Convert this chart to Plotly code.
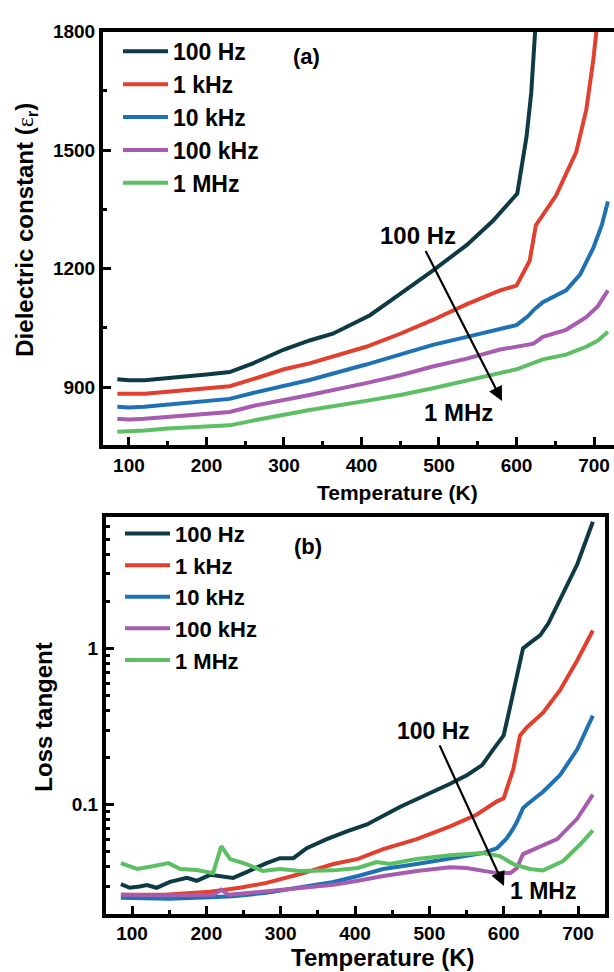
import plotly.graph_objects as go
import numpy as np

# ---------------- data: panel (a) dielectric constant ----------------
freq_labels = ["100 Hz", "1 kHz", "10 kHz", "100 kHz", "1 MHz"]
colors = ["#0d3a45", "#e23f2e", "#1f71b6", "#a75caf", "#5dbf63"]

T_a_100Hz = [85, 100, 120, 150, 200, 230, 260, 300, 333, 363, 411, 449, 492, 536, 569, 595, 601, 613, 619, 624]
e_100Hz = [920, 917, 917, 922, 932, 938, 960, 995, 1018, 1035, 1082, 1135, 1195, 1260, 1320, 1377, 1390, 1535, 1645, 1800]

T_a_1kHz = [85, 100, 120, 150, 200, 230, 260, 300, 333, 406, 450, 492, 536, 579, 600, 617, 625, 634, 651, 677, 690, 699, 703]
e_1kHz = [883, 882, 883, 888, 897, 902, 920, 945, 960, 1002, 1035, 1070, 1110, 1145, 1157, 1220, 1310, 1335, 1385, 1495, 1602, 1727, 1800]

T_a_10kHz = [85, 100, 120, 150, 200, 230, 260, 300, 333, 406, 450, 492, 536, 579, 600, 615, 622, 634, 664, 682, 699, 710, 718]
e_10kHz = [850, 848, 850, 855, 863, 870, 885, 903, 918, 957, 982, 1007, 1027, 1047, 1057, 1080, 1095, 1115, 1145, 1185, 1252, 1310, 1370]

T_a_100kHz = [85, 100, 120, 150, 200, 230, 260, 300, 333, 406, 450, 492, 536, 579, 622, 634, 664, 690, 705, 718]
e_100kHz = [820, 818, 820, 825, 832, 837, 852, 867, 880, 910, 930, 952, 972, 995, 1010, 1027, 1045, 1077, 1105, 1145]

T_a_1MHz = [85, 100, 120, 150, 200, 230, 260, 300, 333, 406, 450, 492, 557, 600, 634, 664, 690, 705, 718]
e_1MHz = [787, 788, 790, 795, 800, 803, 815, 830, 842, 865, 880, 897, 927, 945, 970, 982, 1002, 1018, 1040]

# ---------------- data: panel (b) loss tangent ----------------
T_b_100Hz = [85, 97, 110, 120, 133, 151, 174, 187, 205, 222, 236, 254, 281, 299, 317, 335, 362, 389, 416, 461,
             505, 528, 551, 571, 586, 600, 609, 619, 626, 635, 649, 660, 680, 699, 720]
tan_100Hz = [0.031, 0.0294, 0.030, 0.0306, 0.0294, 0.0321, 0.034, 0.0326, 0.0356, 0.0345, 0.034, 0.037, 0.0423,
             0.0455, 0.0455, 0.0527, 0.0602, 0.0675, 0.0747, 0.097, 0.121, 0.136, 0.155, 0.179, 0.226, 0.277,
             0.43, 0.73, 1.0, 1.08, 1.21, 1.44, 2.23, 3.45, 6.46]

T_b_1kHz = [85, 145, 205, 245, 281, 326, 371, 404, 438, 483, 528, 564, 591, 600, 613, 622, 631, 653, 676, 699, 720]
tan_1kHz = [0.0265, 0.0265, 0.0277, 0.0294, 0.0316, 0.036, 0.0417, 0.045, 0.0519, 0.0602, 0.0726, 0.0865,
            0.105, 0.11, 0.169, 0.277, 0.312, 0.388, 0.542, 0.84, 1.3]

T_b_10kHz = [85, 150, 205, 236, 281, 326, 371, 404, 438, 483, 528, 572, 591, 604, 613, 618, 626, 631, 653, 676, 699, 720]
tan_10kHz = [0.0254, 0.025, 0.0256, 0.026, 0.0273, 0.0294, 0.032, 0.035, 0.0388, 0.0417, 0.045, 0.049, 0.0527,
             0.0608, 0.0705, 0.078, 0.095, 0.1, 0.121, 0.155, 0.226, 0.371]

T_b_100kHz = [85, 150, 210, 220, 230, 281, 326, 371, 404, 438, 483, 528, 550, 572, 591, 609, 618, 626, 645, 672, 699, 720]
tan_100kHz = [0.0265, 0.0262, 0.0265, 0.0286, 0.0265, 0.028, 0.029, 0.0307, 0.0326, 0.035, 0.0377, 0.0398,
              0.0394, 0.038, 0.0365, 0.0365, 0.0394, 0.0483, 0.0527, 0.0602, 0.0815, 0.116]

T_b_1MHz = [85, 107, 128, 149, 165, 187, 209, 220, 232, 254, 276, 299, 326, 371, 404, 429, 447, 483, 528, 572,
            595, 613, 635, 653, 680, 703, 720]
tan_1MHz = [0.0423, 0.0388, 0.0404, 0.0423, 0.0388, 0.0382, 0.0365, 0.0542, 0.0449, 0.0417, 0.0377, 0.0388,
            0.0377, 0.038, 0.0394, 0.043, 0.0417, 0.045, 0.0475, 0.049, 0.0469, 0.0417, 0.0388, 0.038, 0.0436,
            0.0558, 0.0685]

x_ticks = [100, 200, 300, 400, 500, 600, 700]
x_minor = [150, 250, 350, 450, 550, 650]
ya_ticks = [900, 1200, 1500, 1800]
ya_minor = [1050, 1350, 1650]
yb_ticks = [0.1, 1]
yb_ticklabels = ["0.1", "1"]
yb_minor = [0.03, 0.04, 0.05, 0.06, 0.07, 0.08, 0.09,
            0.2, 0.3, 0.4, 0.5, 0.6, 0.7, 0.8, 0.9,
            2, 3, 4, 5, 6]

panel_a = [(T_a_100Hz, e_100Hz), (T_a_1kHz, e_1kHz), (T_a_10kHz, e_10kHz), (T_a_100kHz, e_100kHz), (T_a_1MHz, e_1MHz)]
panel_b = [(T_b_100Hz, tan_100Hz), (T_b_1kHz, tan_1kHz), (T_b_10kHz, tan_10kHz), (T_b_100kHz, tan_100kHz), (T_b_1MHz, tan_1MHz)]

W, H = 614, 972
FONT = "Liberation Sans, Arial, sans-serif"

fig = go.Figure()
for lab, col, (t, v) in zip(freq_labels, colors, panel_a):
    fig.add_trace(go.Scatter(x=t, y=v, mode="lines", name=lab, line=dict(color=col, width=4),
                             xaxis="x", yaxis="y", legend="legend"))
for lab, col, (t, v) in zip(freq_labels, colors, panel_b):
    fig.add_trace(go.Scatter(x=t, y=v, mode="lines", name=lab, line=dict(color=col, width=4),
                             xaxis="x2", yaxis="y2", legend="legend2"))

def px_x(p):
    return p / W

def px_y(p):
    return 1 - p / H

axis_common = dict(showline=True, linecolor="black", linewidth=4, ticks="inside", ticklen=8,
                   tickwidth=3, tickcolor="black", showgrid=False, zeroline=False,
                   tickfont=dict(family=FONT, size=19, color="black", weight="bold"))

minor_common = dict(tickmode="array", ticks="inside", ticklen=4, tickwidth=3, tickcolor="black")

fig.update_layout(
    width=W, height=H, margin=dict(l=0, r=0, t=0, b=0),
    paper_bgcolor="white", plot_bgcolor="white",
    xaxis=dict(domain=[px_x(103), 1.0], range=[66.5, 725.8], anchor="y", mirror=True,
               tickmode="array", tickvals=x_ticks, minor=dict(tickvals=x_minor, **minor_common),
               **axis_common),
    yaxis=dict(domain=[px_y(440), px_y(22)], range=[752, 1800], anchor="x", mirror=False,
               tickmode="array", tickvals=ya_ticks, minor=dict(tickvals=ya_minor, **minor_common),
               **axis_common),
    xaxis2=dict(domain=[px_x(106), px_x(605)], range=[65, 736.3], anchor="y2", mirror=True,
                tickmode="array", tickvals=x_ticks, minor=dict(tickvals=x_minor, **minor_common),
                **axis_common),
    yaxis2=dict(domain=[px_y(913), px_y(512)], type="log", range=[np.log10(0.0201), np.log10(6.95)],
                anchor="x2", mirror=True,
                tickmode="array", tickvals=yb_ticks, ticktext=yb_ticklabels,
                minor=dict(tickvals=yb_minor, **minor_common),
                **axis_common),
    legend=dict(x=px_x(118), y=px_y(20), xanchor="left", yanchor="top", bgcolor="rgba(0,0,0,0)",
                itemwidth=45,
                font=dict(family=FONT, size=23, color="black", weight="bold"), tracegroupgap=0),
    legend2=dict(x=px_x(120), y=px_y(508), xanchor="left", yanchor="top", bgcolor="rgba(0,0,0,0)",
                 itemwidth=45,
                 font=dict(family=FONT, size=22, color="black", weight="bold"), tracegroupgap=0),
    showlegend=True,
)

def ann(text, x, y, size, angle=0):
    fig.add_annotation(text=text, xref="paper", yref="paper", x=px_x(x), y=px_y(y),
                       xanchor="center", yanchor="middle", showarrow=False, textangle=angle,
                       font=dict(family=FONT, size=size, color="black", weight="bold"))

def arrow_label(text, tx, ty, hx, hy, size):
    # label text placed at (tx, ty); the arrow runs from the label to its head at (hx, hy)
    fig.add_annotation(text=text, xref="paper", yref="paper", x=px_x(hx), y=px_y(hy),
                       ax=tx - hx, ay=ty - hy, axref="pixel", ayref="pixel",
                       showarrow=True, arrowhead=2, arrowsize=1.3, arrowwidth=2.2, arrowcolor="black",
                       font=dict(family=FONT, size=size, color="black", weight="bold"))

ann("(a)", 306, 47, 22)
ann("(b)", 308, 542, 22)
arrow_label("100 Hz", 418, 230, 502, 395, 24)
ann("1 MHz", 458, 407, 24)
arrow_label("100 Hz", 433, 730, 504, 885, 23)
ann("1 MHz", 543, 890, 23)
ann("Temperature (K)", 397, 488, 21)
ann("Temperature (K)", 383, 957, 24)
ann("Dielectric constant (<span style='font-weight:normal;font-family:serif'>ε</span><sub>r</sub>)", 27, 222, 24, -90)
ann("Loss tangent", 44, 715, 24, -90)

fig.write_html("out.html")
